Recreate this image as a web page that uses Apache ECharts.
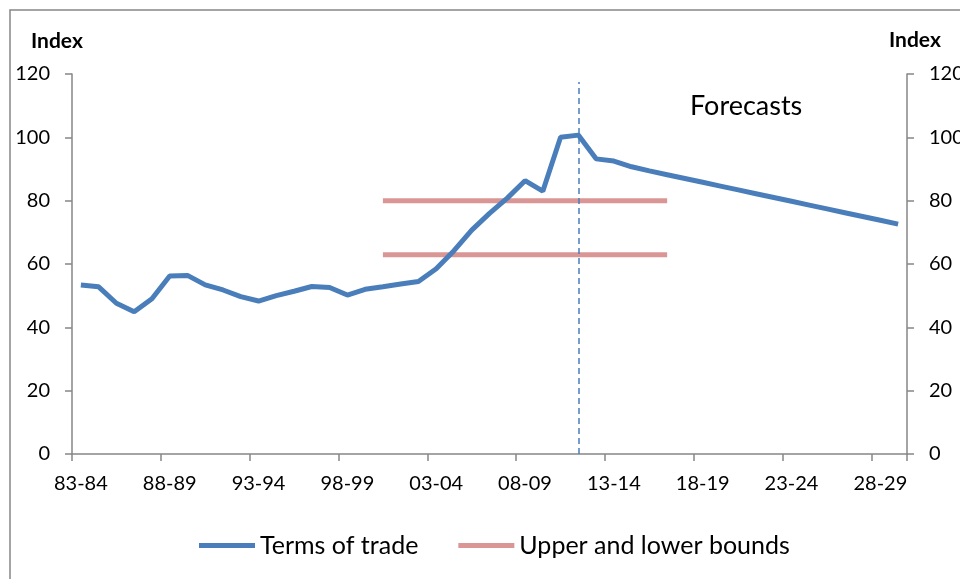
<!DOCTYPE html>
<html><head><meta charset="utf-8">
<script src="https://cdn.jsdelivr.net/npm/echarts@6/dist/echarts.min.js"></script>
<style>html,body{margin:0;padding:0;background:#fff}#c{width:960px;height:579px}</style>
</head><body><div id="c"></div>
<script>
const categories = ['83-84','84-85','85-86','86-87','87-88','88-89','89-90','90-91','91-92','92-93',
'93-94','94-95','95-96','96-97','97-98','98-99','99-00','00-01','01-02','02-03',
'03-04','04-05','05-06','06-07','07-08','08-09','09-10','10-11','11-12','12-13',
'13-14','14-15','15-16','16-17','17-18','18-19','19-20','20-21','21-22','22-23',
'23-24','24-25','25-26','26-27','27-28','28-29','29-30'];
const termsOfTrade = [53.4,52.8,47.6,44.9,49.0,56.2,56.4,53.4,51.8,49.7,
48.3,50.0,51.4,52.9,52.6,50.2,52.0,52.8,53.7,54.5,
58.5,64.2,70.7,76.0,80.8,86.3,83.0,100.0,100.7,93.2,
92.5,90.7,89.4,88.2,87.0,85.8,84.6,83.4,82.2,81.0,
79.8,78.6,77.4,76.2,75.0,73.8,72.6];
const upperBound = [null,null,null,null,null,null,null,null,null,null,
null,null,null,null,null,null,null,80,80,80,
80,80,80,80,80,80,80,80,80,80,
80,80,80,80,null,null,null,null,null,null,
null,null,null,null,null,null,null];
const lowerBound = [null,null,null,null,null,null,null,null,null,null,
null,null,null,null,null,null,null,62.9,62.9,62.9,
62.9,62.9,62.9,62.9,62.9,62.9,62.9,62.9,62.9,62.9,
62.9,62.9,62.9,62.9,null,null,null,null,null,null,
null,null,null,null,null,null,null];
const forecastStart = '11-12';
const forecastTop = 117.5;
const yTicks = {min:0, max:120, interval:20};

const FONT = 'Lato';
const axisCol = '#868686';
const chart = echarts.init(document.getElementById('c'), null, {renderer:'canvas'});
const yAxisBase = {
  type:'value', min:yTicks.min, max:yTicks.max, interval:yTicks.interval,
  splitLine:{show:false},
  axisLine:{show:true, lineStyle:{color:axisCol, width:1.5}},
  axisTick:{show:true, length:7, lineStyle:{color:axisCol, width:1.5}},
  axisLabel:{color:'#000', fontFamily:FONT, fontSize:20, margin:22}
};
chart.setOption({
  animation:false,
  backgroundColor:'#fff',
  grid:{left:72, top:74, width:835, height:380, containLabel:false, outerBoundsMode:'none'},
  graphic:[
    {type:'rect', shape:{x:10, y:10, width:980, height:600}, style:{fill:'none', stroke:axisCol, lineWidth:1.5}, silent:true},
    {type:'text', x:31, y:41, style:{text:'Index', font:'bold 21px Lato', fill:'#000', verticalAlign:'middle'}},
    {type:'text', x:889, y:40, style:{text:'Index', font:'bold 21px Lato', fill:'#000', verticalAlign:'middle'}},
    {type:'text', x:690, y:106, style:{text:'Forecasts', font:'27px Lato', fill:'#000', verticalAlign:'middle'}}
  ],
  legend:{
    left:199, top:533, padding:0, itemWidth:56, itemHeight:5, itemGap:40, icon:'rect',
    textStyle:{fontFamily:FONT, fontSize:25, color:'#000'},
    data:['Terms of trade','Upper and lower bounds']
  },
  xAxis:{
    type:'category', data:categories, boundaryGap:true,
    axisLine:{lineStyle:{color:axisCol, width:1.5}},
    axisTick:{show:true, interval:4, length:7, lineStyle:{color:axisCol, width:1.5}},
    axisLabel:{interval:4, color:'#000', fontFamily:FONT, fontSize:20, margin:20}
  },
  yAxis:[
    Object.assign({}, yAxisBase, {position:'left'}),
    Object.assign({}, yAxisBase, {position:'right'})
  ],
  series:[
    {name:'Upper and lower bounds', type:'line', data:upperBound, showSymbol:false, symbol:'none',
     lineStyle:{color:'#D99694', width:5}, itemStyle:{color:'#D99694'}, z:2},
    {name:'Upper and lower bounds', type:'line', data:lowerBound, showSymbol:false, symbol:'none',
     lineStyle:{color:'#D99694', width:5}, itemStyle:{color:'#D99694'}, z:2},
    {name:'Terms of trade', type:'line', data:termsOfTrade, showSymbol:false, symbol:'none',
     lineStyle:{color:'#4A7EBB', width:5}, itemStyle:{color:'#4A7EBB'}, z:3,
     markLine:{silent:true, symbol:['none','none'], label:{show:false},
       lineStyle:{color:'#4A7EBB', width:1.5, type:[6,4]},
       data:[[{coord:[forecastStart, 0]},{coord:[forecastStart, forecastTop]}]]}}
  ]
});
</script></body></html>
